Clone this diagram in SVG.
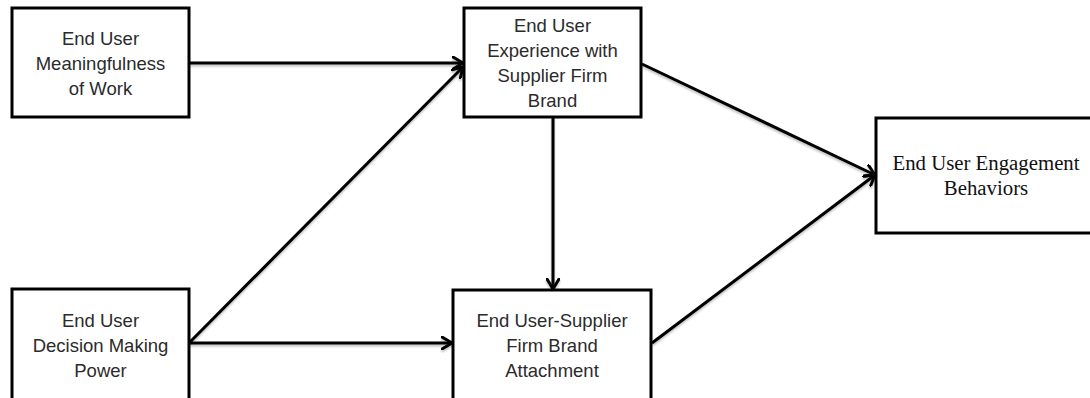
<svg xmlns="http://www.w3.org/2000/svg" width="1090" height="398" viewBox="0 0 1090 398">
  <style>
    .box { fill: #ffffff; stroke: #000000; stroke-width: 3; }
    .lbl { font-family: "Liberation Sans", Arial, sans-serif; font-size: 18.5px; fill: #2b2b2b; text-anchor: middle; }
    .lbl-serif { font-family: "Liberation Serif", "Times New Roman", serif; font-size: 20.8px; fill: #111111; text-anchor: middle; }
    .link { fill: none; stroke: #000000; stroke-width: 3; marker-end: url(#chevron); }
  </style>
  <defs>
    <marker id="chevron" viewBox="0 0 12 14" refX="11" refY="7" markerWidth="12" markerHeight="14" markerUnits="userSpaceOnUse" orient="auto">
      <path d="M1,1 L11,7 L1,13" fill="none" stroke="#000000" stroke-width="3" stroke-linecap="round" stroke-linejoin="round"/>
    </marker>
    <filter id="soft" x="-5%" y="-5%" width="110%" height="120%">
      <feGaussianBlur in="SourceAlpha" stdDeviation="1.2"/>
      <feOffset dx="0" dy="2" result="b"/>
      <feComponentTransfer><feFuncA type="linear" slope="0.25"/></feComponentTransfer>
      <feMerge><feMergeNode/><feMergeNode in="SourceGraphic"/></feMerge>
    </filter>
  </defs>
  <rect width="1090" height="398" fill="#ffffff"/>

  <g id="connectors" filter="url(#soft)">
    <line class="link" x1="189" y1="63" x2="463" y2="63"/>
    <line class="link" x1="189" y1="343" x2="463" y2="67"/>
    <line class="link" x1="189" y1="343" x2="452" y2="343"/>
    <line class="link" x1="553" y1="117" x2="553" y2="289"/>
    <line class="link" x1="642" y1="64" x2="875" y2="175"/>
    <line class="link" x1="652" y1="343" x2="875" y2="175"/>
  </g>

  <g id="meaningfulness">
    <rect class="box" x="12" y="8" width="177" height="109"/>
    <text class="lbl" x="100.5" y="45">End User</text>
    <text class="lbl" x="100.5" y="70">Meaningfulness</text>
    <text class="lbl" x="100.5" y="95">of Work</text>
  </g>

  <g id="experience">
    <rect class="box" x="464" y="8" width="177" height="109"/>
    <text class="lbl" x="552.5" y="32">End User</text>
    <text class="lbl" x="552.5" y="57">Experience with</text>
    <text class="lbl" x="552.5" y="82">Supplier Firm</text>
    <text class="lbl" x="552.5" y="107">Brand</text>
  </g>

  <g id="engagement">
    <rect class="box" x="876" y="118" width="222" height="115"/>
    <text class="lbl-serif" x="986" y="170">End User Engagement</text>
    <text class="lbl-serif" x="986" y="195">Behaviors</text>
  </g>

  <g id="decision">
    <rect class="box" x="12" y="289" width="177" height="120"/>
    <text class="lbl" x="100.5" y="327">End User</text>
    <text class="lbl" x="100.5" y="352">Decision Making</text>
    <text class="lbl" x="100.5" y="377">Power</text>
  </g>

  <g id="attachment">
    <rect class="box" x="453" y="290" width="198" height="120"/>
    <text class="lbl" x="552" y="327">End User-Supplier</text>
    <text class="lbl" x="552" y="352">Firm Brand</text>
    <text class="lbl" x="552" y="377">Attachment</text>
  </g>
</svg>
